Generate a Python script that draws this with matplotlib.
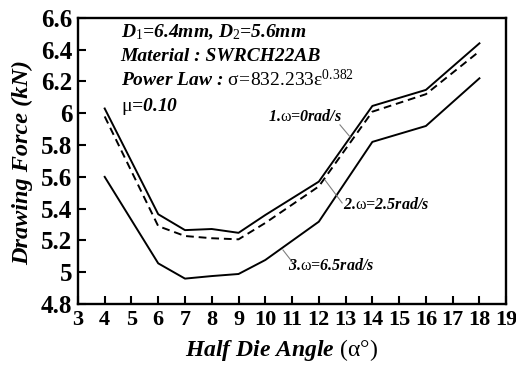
import matplotlib
matplotlib.use("Agg")
import matplotlib.pyplot as plt
from matplotlib.ticker import FuncFormatter, MultipleLocator

plt.rcParams['font.family'] = ['Liberation Serif', 'DejaVu Serif']
plt.rcParams['mathtext.fontset'] = 'custom'
plt.rcParams['mathtext.rm'] = 'Liberation Serif'
plt.rcParams['mathtext.it'] = 'Liberation Serif:style=italic:weight=bold'
plt.rcParams['mathtext.bf'] = 'Liberation Serif:weight=bold'

# half die angle (deg)
angle = [4, 6, 7, 8, 9, 10, 12, 14, 16, 18]
# drawing force (kN) for each rotation speed
force_w0 = [6.03, 5.365, 5.265, 5.272, 5.248, 5.36, 5.57, 6.046, 6.147, 6.44]
force_w25 = [5.98, 5.29, 5.228, 5.214, 5.207, 5.31, 5.54, 6.01, 6.12, 6.39]
force_w65 = [5.60, 5.056, 4.96, 4.976, 4.989, 5.077, 5.318, 5.82, 5.92, 6.22]

fig = plt.figure(figsize=(5.16, 3.65), dpi=100)
ax = fig.add_axes([0.151, 0.167, 0.830, 0.784])

ax.plot(angle, force_w0, color='black', lw=1.4)
ax.plot(angle, force_w25, color='black', lw=1.4, ls=(0, (4, 2.5)))
ax.plot(angle, force_w65, color='black', lw=1.4)

ax.set_xlim(3, 19)
ax.set_ylim(4.8, 6.6)
ax.xaxis.set_major_locator(MultipleLocator(1))
ax.yaxis.set_major_locator(MultipleLocator(0.2))
ax.yaxis.set_major_formatter(FuncFormatter(lambda v, p: '%g' % round(v, 1)))
ax.tick_params(direction='in', length=6, width=1.5, labelsize=18, pad=4)
ax.tick_params(axis='x', labelsize=16)
for lab in ax.get_xticklabels() + ax.get_yticklabels():
    lab.set_fontweight('bold')
for sp in ax.spines.values():
    sp.set_linewidth(1.7)

bi = dict(fontweight='bold', fontstyle='italic')

# info block
ax.text(4.6, 6.51, r'$D_1$=6.4mm, $D_2$=5.6mm', fontsize=14, va='center', **bi)
ax.text(4.6, 6.36, 'Material : SWRCH22AB', fontsize=14, va='center', **bi)
ax.text(4.6, 6.21, r'Power Law : $\mathrm{\sigma\!=\!832.233\varepsilon}^{0.382}$',
        fontsize=14, va='center', **bi)
ax.text(4.6, 6.045, r'$\mathrm{\mu}$=0.10', fontsize=14, va='center', **bi)

# curve labels with leader lines
ax.text(10.1, 5.977, r'1.$\mathrm{\omega}$=0rad/s', fontsize=11.5, va='center', **bi)
ax.plot([12.79, 13.17], [5.927, 5.851], color='gray', lw=0.8)
ax.text(12.91, 5.423, r'2.$\mathrm{\omega}$=2.5rad/s', fontsize=11.5, va='center', **bi)
ax.plot([12.23, 12.87], [5.58, 5.436], color='gray', lw=0.8)
ax.text(10.85, 5.039, r'3.$\mathrm{\omega}$=6.5rad/s', fontsize=11.5, va='center', **bi)
ax.plot([10.66, 11.04], [5.14, 5.058], color='gray', lw=0.8)

fig.text(0.545, 0.04, r'Half Die Angle $\mathrm{(\alpha\degree)}$', fontsize=17,
         ha='center', va='center', **bi)
fig.text(0.043, 0.555, 'Drawing Force (kN)', fontsize=17.5, rotation=90,
         ha='center', va='center', **bi)

fig.savefig('out.png', dpi=100)
